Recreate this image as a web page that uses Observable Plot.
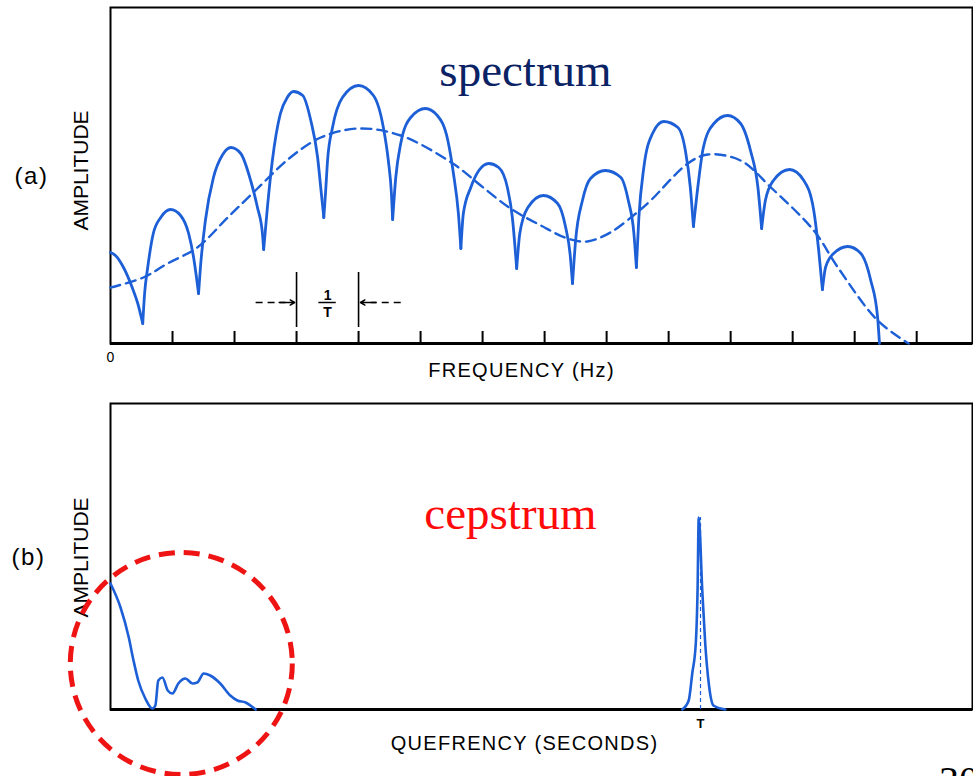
<!DOCTYPE html>
<html><head><meta charset="utf-8">
<script src="https://cdn.jsdelivr.net/npm/d3@7"></script>
<script src="https://cdn.jsdelivr.net/npm/@observablehq/plot@0.6"></script>
<style>
body{margin:0;background:#fff}
#chart{position:relative;width:973px;height:776px;overflow:hidden;background:#fff}
#chart svg{position:absolute;left:0}
#page{position:absolute;left:939px;top:761px;font:40px "Liberation Serif",serif;line-height:40px;color:#000}
</style>
</head><body><div id="chart"></div>
<script>
// ---- Panel (a): spectrum (frequency in 1/T units, amplitude arbitrary) ----
const spectrumArches = [
  [[0,91],[0.08,88],[0.21,76],[0.35,56],[0.44,40],[0.52,20]],
  [[0.52,20],[0.55,50],[0.60,76],[0.69,110],[0.81,126],[0.97,134],[1.13,128],[1.26,110],[1.34,86],[1.42,50]],
  [[1.42,50],[1.45,76],[1.53,123],[1.66,166],[1.81,189],[1.94,196],[2.10,190],[2.26,163],[2.37,136],[2.45,110],[2.47,94]],
  [[2.47,94],[2.53,136],[2.61,183],[2.74,230],[2.85,246],[2.95,252],[3.10,248],[3.23,223],[3.34,186],[3.39,156],[3.44,126]],
  [[3.44,126],[3.47,153],[3.50,183],[3.58,216],[3.74,246],[4.0,258],[4.24,248],[4.40,216],[4.48,183],[4.53,150],[4.55,124]],
  [[4.55,124],[4.60,166],[4.68,200],[4.84,226],[5.08,235],[5.27,228],[5.44,203],[5.53,170],[5.61,130],[5.65,95]],
  [[5.65,95],[5.69,130],[5.81,156],[5.94,173],[6.10,180],[6.26,176],[6.40,156],[6.48,126],[6.55,75]],
  [[6.55,75],[6.60,110],[6.73,136],[6.98,148],[7.21,140],[7.34,116],[7.41,90],[7.45,60]],
  [[7.45,60],[7.50,103],[7.61,143],[7.74,165],[7.98,173],[8.23,166],[8.35,143],[8.44,110],[8.48,76]],
  [[8.48,76],[8.52,126],[8.60,176],[8.74,210],[8.92,222],[9.15,216],[9.27,193],[9.35,156],[9.40,117]],
  [[9.40,117],[9.47,156],[9.56,196],[9.73,220],[9.95,228],[10.16,220],[10.32,193],[10.44,156],[10.50,115]],
  [[10.50,115],[10.56,143],[10.69,163],[10.95,174],[11.18,163],[11.34,133],[11.42,93],[11.48,54]],
  [[11.48,54],[11.53,76],[11.66,90],[11.89,97],[12.10,90],[12.26,63],[12.37,26],[12.40,0]]
];
const envelopeFreq = [0,0.53,0.92,1.40,1.89,2.37,2.90,3.39,4.0,4.68,5.52,5.97,6.45,6.94,7.37,7.69,8.06,8.47,8.71,9.31,9.63,10.16,10.65,11.34,11.73,12.37,12.87];
const envelopeAmp  = [56,66,80,96,126,155,186,206,215,208,180,158,135,118,105,102,111,130,143,180,189,183,156,113,76,23,0];
const freqTicks = [1,2,3,4,5,6,7,8,9,10,11,12,13];
const freqTickLabels = [{x: 0, label: "0"}];
const periodBars = [3, 4];          // the 1/T interval
const periodArrowShafts = [{x1: 2.34, x2: 2.82}, {x1: 4.68, x2: 4.20}];
const periodArrowHeads  = [{x1: 2.72, x2: 2.97}, {x1: 4.28, x2: 4.03}];

// ---- Panel (b): cepstrum (quefrency in T units) ----
const cepLowQ = [0,0.017,0.031,0.039,0.047,0.059,0.071,0.076,0.081,0.088,0.097,0.105,0.115,0.127,0.139,0.147,0.158,0.169,0.186,0.203,0.215,0.229,0.246];
const cepLowA = [126,102,72,49,29,11,1,4,29,32,19,16,26,31,26,27,36,34,26,14,9,7,0];
const cepPeakQ = [0.969,0.980,0.986,0.992,0.995,0.997,1.003,1.008,1.014,1.022,1.042];
const cepPeakA = [0,9,36,66,119,192,119,66,26,4,0];
const quefTicks = [1];
const quefTickLabels = [{x: 1, label: "T"}];
const highlight = [{q: 0.12, a: 46}];   // red dashed circle around low-quefrency part

const BLUE = "#1c5fd6";
const SANS = "Liberation Sans, Arial, sans-serif";
const SERIF = "Liberation Serif, Times New Roman, serif";
const MID = {textAnchor: "middle", lineAnchor: "middle"};

const specData = spectrumArches.flatMap((arch, i) => arch.map(([f, a]) => ({f, a, arch: i})));
const envData = envelopeFreq.map((f, i) => ({f, a: envelopeAmp[i]}));
const cepLow = cepLowQ.map((q, i) => ({q, a: cepLowA[i]}));
const cepPeak = cepPeakQ.map((q, i) => ({q, a: cepPeakA[i]}));

const chart = document.getElementById("chart");

const plotA = Plot.plot({
  width: 973, height: 390,
  marginLeft: 110, marginRight: 1, marginTop: 7, marginBottom: 47,
  x: {domain: [0, 13.9], axis: null},
  y: {domain: [0, 336], axis: null},
  style: {fontFamily: SANS, fontSize: "13px", color: "black", background: "white", overflow: "visible"},
  marks: [
    Plot.frame({stroke: "black", strokeWidth: 2}),
    Plot.ruleY([0], {stroke: "black", strokeWidth: 3}),
    Plot.ruleX(freqTicks, {y1: 0, y2: 12, stroke: "black", strokeWidth: 2}),
    Plot.ruleX(periodBars, {y1: 16, y2: 71, stroke: "black", strokeWidth: 1.6}),
    Plot.link(periodArrowShafts, {x1: "x1", x2: "x2", y1: 41, y2: 41, stroke: "black", strokeWidth: 1.5, strokeDasharray: "7,5"}),
    Plot.arrow(periodArrowHeads, {x1: "x1", x2: "x2", y1: 41, y2: 41, stroke: "black", strokeWidth: 1.5, headLength: 8}),
    Plot.text(["1"], {x: 3.5, y: 48, fontSize: 14, fontWeight: "bold", ...MID}),
    Plot.ruleY([41], {x1: 3.36, x2: 3.64, stroke: "black", strokeWidth: 1.5}),
    Plot.text(["T"], {x: 3.5, y: 31, fontSize: 14, fontWeight: "bold", ...MID}),
    Plot.line(envData, {x: "f", y: "a", curve: "catmull-rom", stroke: BLUE, strokeWidth: 2.4, strokeDasharray: "10,6"}),
    Plot.line(specData, {x: "f", y: "a", z: "arch", curve: "monotone-x", stroke: BLUE, strokeWidth: 2.8}),
    Plot.text(freqTickLabels, {x: "x", text: "label", frameAnchor: "bottom", dy: 14, fontSize: 14, ...MID}),
    Plot.text(["FREQUENCY (Hz)"], {frameAnchor: "bottom", dx: -20, dy: 27, fontSize: 20, ...MID}),
    Plot.text(["AMPLITUDE"], {frameAnchor: "left", rotate: -90, dx: -29, dy: -5, fontSize: 21, ...MID}),
    Plot.text(["(a)"], {frameAnchor: "left", dx: -79, dy: 1, fontSize: 24, ...MID}),
    Plot.text(["spectrum"], {frameAnchor: "top", dx: -16, dy: 63, fontSize: 47, fontFamily: SERIF, fill: "#0b2265", ...MID})
  ]
});
plotA.style.top = "0px";
chart.appendChild(plotA);

const plotB = Plot.plot({
  width: 973, height: 386,
  marginLeft: 110, marginRight: 1, marginTop: 13, marginBottom: 67,
  x: {domain: [0, 1.461], axis: null},
  y: {domain: [0, 306], axis: null},
  style: {fontFamily: SANS, fontSize: "13px", color: "black", background: "white", overflow: "visible"},
  marks: [
    Plot.frame({stroke: "black", strokeWidth: 2}),
    Plot.ruleY([0], {stroke: "black", strokeWidth: 3}),
    Plot.ruleX(quefTicks, {y1: 0, y2: 192, stroke: BLUE, strokeWidth: 1.2, strokeDasharray: "4,3"}),
    Plot.line(cepLow, {x: "q", y: "a", curve: "monotone-x", stroke: BLUE, strokeWidth: 2.6}),
    Plot.line(cepPeak, {x: "q", y: "a", curve: "monotone-x", stroke: BLUE, strokeWidth: 2.6}),
    Plot.text(quefTickLabels, {x: "x", text: "label", frameAnchor: "bottom", dy: 14, fontSize: 13, fontWeight: "bold", ...MID}),
    Plot.text(["QUEFRENCY (SECONDS)"], {frameAnchor: "bottom", dx: -17, dy: 34, fontSize: 20, ...MID}),
    Plot.text(["AMPLITUDE"], {frameAnchor: "left", rotate: -90, dx: -29, dy: 1, fontSize: 21, ...MID}),
    Plot.text(["(b)"], {frameAnchor: "left", dx: -82, dy: 1, fontSize: 24, ...MID}),
    Plot.text(["cepstrum"], {frameAnchor: "top", dx: -31, dy: 110, fontSize: 47, fontFamily: SERIF, fill: "#ff0a0a", ...MID}),
    Plot.dot(highlight, {x: "q", y: "a", r: 111, fill: "none", stroke: "#ee1414", strokeWidth: 5, strokeDasharray: "16,9"})
  ]
});
plotB.style.top = "390px";
chart.appendChild(plotB);

// lettering-style tweaks: letter spacing for axis titles and panel tags
for (const svg of [plotA, plotB]) {
  svg.querySelectorAll("text").forEach(t => {
    const s = t.textContent;
    if (s === "FREQUENCY (Hz)" || s === "QUEFRENCY (SECONDS)") t.setAttribute("letter-spacing", "1.3");
    if (s === "(a)" || s === "(b)") t.setAttribute("letter-spacing", "1.5");
  });
}

const page = document.createElement("div");
page.id = "page";
page.textContent = "30";
chart.appendChild(page);
</script>
</body></html>
